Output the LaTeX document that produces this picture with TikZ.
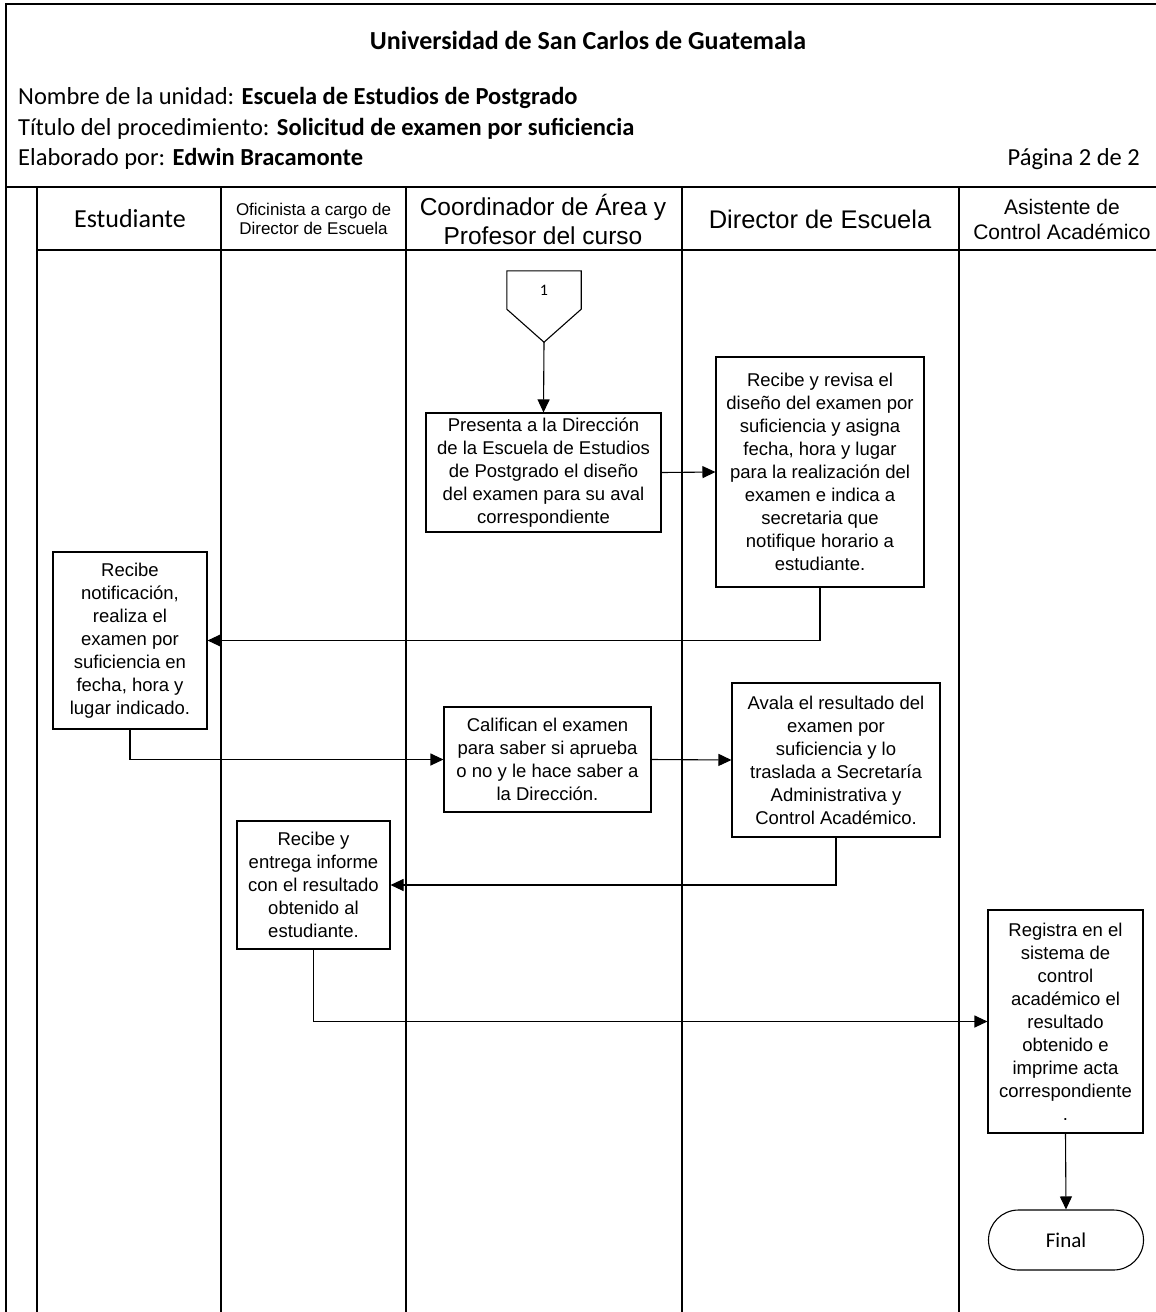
\documentclass[tikz,border=0pt]{standalone}
\usepackage{fontspec}
\setmainfont{Carlito}
\newfontfamily\arialfont{Liberation Sans}
\usetikzlibrary{positioning, arrows.meta}

\tikzset{
  lane/.style={line width=1.6pt},
  paso/.style={draw, line width=1.1pt, fill=white, align=center, inner sep=0pt, font=\arialfont\fontsize{18.5}{23}\selectfont},
  flecha/.style={line width=1.1pt, -{Triangle[length=13pt, width=12pt]}},
  cabecera/.style={align=center, inner sep=0pt},
}

\begin{document}
\begin{tikzpicture}[x=1pt, y=-1pt]
\useasboundingbox (0,0) rectangle (1156,1312);

% Frame and lanes
\draw[lane] (1156,4) -- (6,4) -- (6,1312);
\draw[lane] (6,187) -- (1156,187);
\draw[lane] (37,250) -- (1156,250);
\draw[lane] (37,187) -- (37,1312);
\draw[lane] (221,187) -- (221,1312);
\draw[lane] (406,187) -- (406,1312);
\draw[lane] (682,187) -- (682,1312);
\draw[lane] (959,187) -- (959,1312);

% Header
\node[inner sep=0pt, font=\fontsize{26}{30}\selectfont\bfseries] (titulo) at (588,40) {Universidad de San Carlos de Guatemala};
\node[anchor=west, inner sep=0pt, font=\fontsize{24.5}{28}\selectfont] (unidad) at (18,98) {Nombre de la unidad: \textbf{Escuela de Estudios de Postgrado}};
\node[anchor=west, inner sep=0pt, font=\fontsize{24.5}{28}\selectfont] (titproc) at (18,129) {Título del procedimiento: \textbf{Solicitud de examen por suficiencia}};
\node[anchor=west, inner sep=0pt, font=\fontsize{24.5}{28}\selectfont] (elab) at (18,159) {Elaborado por: \textbf{Edwin Bracamonte}};
\node[anchor=east, inner sep=0pt, font=\fontsize{24.5}{28}\selectfont] (pagina) at (1140,159) {Página 2 de 2};

% Lane titles
\node[cabecera, font=\fontsize{26}{30}\selectfont] (hEst) at (130,219) {Estudiante};
\node[cabecera, font=\arialfont\fontsize{17}{19}\selectfont] (hOfi) at (313.5,219) {Oficinista a cargo de\\Director de Escuela};
\node[cabecera, font=\arialfont\fontsize{24.5}{29}\selectfont] (hCoord) at (543,219) {Coordinador de Área y\\Profesor del curso};
\node[cabecera, font=\arialfont\fontsize{25.5}{28}\selectfont] (hDir) at (820,219) {Director de Escuela};
\node[cabecera, font=\arialfont\fontsize{21}{25}\selectfont] (hAsis) at (1062,219) {Asistente de\\Control Académico};

% Off-page connector
\node[inner sep=0pt, minimum width=74pt, minimum height=38pt, font=\fontsize{16}{18}\selectfont] (conn) at (544,290) {1};
\coordinate (conntip) at ([yshift=-33pt]conn.south);
\draw[line width=1.1pt] (conn.south west) -- (conn.north west) -- (conn.north east) -- (conn.south east) -- (conntip) -- cycle;

% Steps
\node[paso, minimum width=235pt, minimum height=119pt] (pres) at (543.5,472.5) {Presenta a la Dirección\\de la Escuela de Estudios\\de Postgrado el diseño\\del examen para su aval\\correspondiente};
\node[paso, minimum width=208pt, minimum height=230pt] (revisa) at (820,472) {Recibe y revisa el\\diseño del examen por\\suficiencia y asigna\\fecha, hora y lugar\\para la realización del\\examen e indica a\\secretaria que\\notifique horario a\\estudiante.};
\node[paso, minimum width=154pt, minimum height=177pt] (notif) at (130,640.5) {Recibe\\notificación,\\realiza el\\examen por\\suficiencia en\\fecha, hora y\\lugar indicado.};
\node[paso, minimum width=207pt, minimum height=105pt] (calif) at (547.5,759.5) {Califican el examen\\para saber si aprueba\\o no y le hace saber a\\la Dirección.};
\node[paso, minimum width=208pt, minimum height=154pt] (avala) at (836,760) {Avala el resultado del\\examen por\\suficiencia y lo\\traslada a Secretaría\\Administrativa y\\Control Académico.};
\node[paso, minimum width=153pt, minimum height=128pt] (entrega) at (313.5,885) {Recibe y\\entrega informe\\con el resultado\\obtenido al\\estudiante.};
\node[paso, minimum width=155pt, minimum height=223pt] (registra) at (1065.5,1021.5) {Registra en el\\sistema de\\control\\académico el\\resultado\\obtenido e\\imprime acta\\correspondiente\\.};
\node[paso, rounded corners=30pt, minimum width=155pt, minimum height=60pt, font=\fontsize{21}{24}\selectfont] (final) at (1066,1240) {Final};

% Connectors
\draw[flecha] (conntip) -- (pres.north);
\draw[flecha] (pres.east) -- (revisa.west);
\draw[flecha] (revisa.south) |- (notif.east);
\draw[flecha] (notif.south) |- (calif.west);
\draw[flecha] (calif.east) -- (avala.west);
\draw[flecha] (avala.south) |- (entrega.east);
\draw[flecha] (entrega.south) |- (registra.west);
\draw[flecha] (registra.south) -- (final.north);
\end{tikzpicture}
\end{document}
